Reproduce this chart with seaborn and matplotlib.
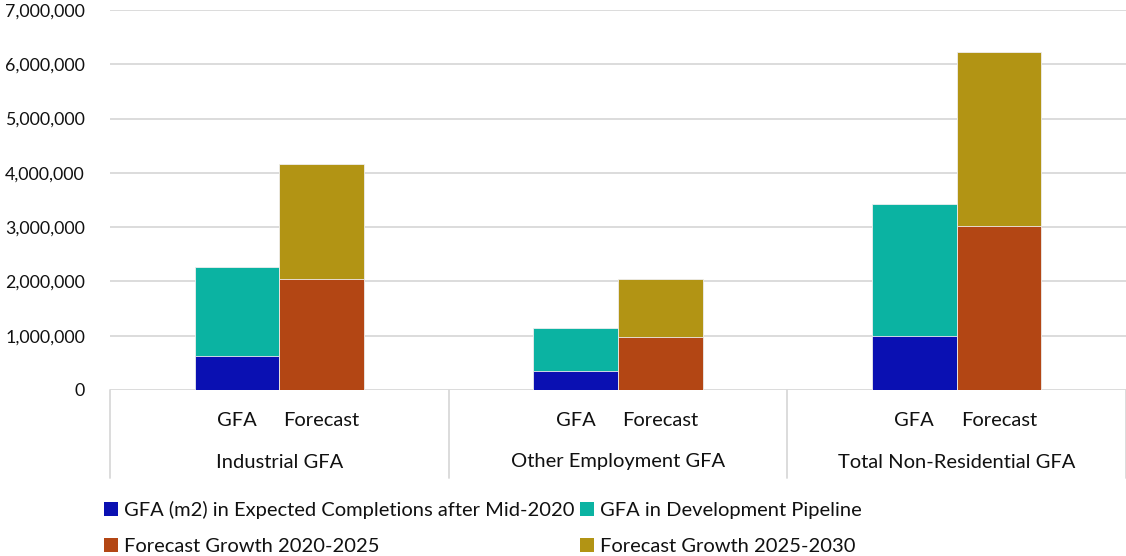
import matplotlib
matplotlib.use("Agg")
import matplotlib.pyplot as plt
import matplotlib.transforms as mtransforms
from matplotlib.patches import Patch
from matplotlib.lines import Line2D
from matplotlib.ticker import FuncFormatter
import seaborn as sns
import pandas as pd

# ---- data ----
groups = ["Industrial GFA", "Other Employment GFA", "Total Non-Residential GFA"]
bar_kinds = ["GFA", "Forecast"]
completions = [630000, 350000, 990000]        # GFA (m2) in Expected Completions after Mid-2020
pipeline = [1640000, 800000, 2430000]         # GFA in Development Pipeline
growth_2020_2025 = [2040000, 980000, 3030000]  # Forecast Growth 2020-2025
growth_2025_2030 = [2130000, 1060000, 3190000] # Forecast Growth 2025-2030
series_names = ["GFA (m2) in Expected Completions after Mid-2020",
                "GFA in Development Pipeline",
                "Forecast Growth 2020-2025",
                "Forecast Growth 2025-2030"]
yticks = [0, 1000000, 2000000, 3000000, 4000000, 5000000, 6000000, 7000000]

BLUE = "#0A10B2"
TEAL = "#0BB3A2"
ORANGE = "#B34614"
GOLD = "#B29414"
TEXT = "#111111"
GRID = "#d9d9d9"
FS = 14.5

sns.set_style("white")
plt.rcParams["font.family"] = ["Lato", "DejaVu Sans"]

rows = []
for i, g in enumerate(groups):
    rows.append({"group": g, "kind": "GFA", "base": completions[i],
                 "top": completions[i] + pipeline[i]})
    rows.append({"group": g, "kind": "Forecast", "base": growth_2020_2025[i],
                 "top": growth_2020_2025[i] + growth_2025_2030[i]})
df = pd.DataFrame(rows)

W, H = 1126, 556
fig = plt.figure(figsize=(W / 100, H / 100), dpi=100)
ax = fig.add_axes([110 / W, 166 / H, (1126 - 110) / W, 380 / H])

common = dict(data=df, x="group", hue="kind", order=groups, hue_order=bar_kinds,
              width=0.5, dodge=True, errorbar=None, saturation=1, legend=False,
              edgecolor="#eeeeee", linewidth=0.6, ax=ax, zorder=3)
sns.barplot(y="top", palette=[TEAL, GOLD], **common)
sns.barplot(y="base", palette=[BLUE, ORANGE], **common)

ax.set_xlim(-0.5, 2.5)
ax.set_ylim(0, 7000000)
ax.set_yticks(yticks)
ax.yaxis.set_major_formatter(FuncFormatter(lambda v, p: f"{int(v):,}"))
ax.tick_params(axis="y", length=0, pad=18, labelsize=12.8, labelcolor=TEXT)
ax.grid(axis="y", color=GRID, linewidth=1.3, zorder=0)
ax.grid(axis="x", visible=False)
for s in ["left", "right", "top", "bottom"]:
    ax.spines[s].set_visible(False)
ax.set_xlabel("")
ax.set_ylabel("")

# inner tick labels
pos = []
labs = []
for i in range(len(groups)):
    pos += [i - 0.125, i + 0.125]
    labs += bar_kinds
ax.set_xticks(pos)
ax.set_xticklabels(labs)
ax.tick_params(axis="x", length=0, pad=16, labelsize=FS, labelcolor=TEXT)

# group labels and separators
trans = mtransforms.blended_transform_factory(ax.transData, ax.transAxes)
for i, g in enumerate(groups):
    ax.text(i, -72 / 380, g, transform=trans, ha="center", va="center",
            fontsize=FS, color=TEXT)
for xb in [-0.5, 0.5, 1.5, 2.5]:
    ax.add_line(Line2D([xb, xb], [0, -88 / 380], transform=trans, color=GRID,
                       linewidth=1.3, clip_on=False))

colors = [BLUE, TEAL, ORANGE, GOLD]
order = [0, 2, 1, 3]  # row-wise display in a column-filled legend
handles = [Patch(facecolor=colors[k], edgecolor="none") for k in order]
labels = [series_names[k] for k in order]
fig.legend(handles, labels, loc="upper left", ncol=2,
           bbox_to_anchor=(96 / W, 1 - 493 / H), frameon=False,
           fontsize=FS, handlelength=0.7, handleheight=0.7, handletextpad=0.3,
           columnspacing=0.25, labelspacing=0.95, labelcolor=TEXT, borderaxespad=0)

fig.savefig("out.png", dpi=100)
